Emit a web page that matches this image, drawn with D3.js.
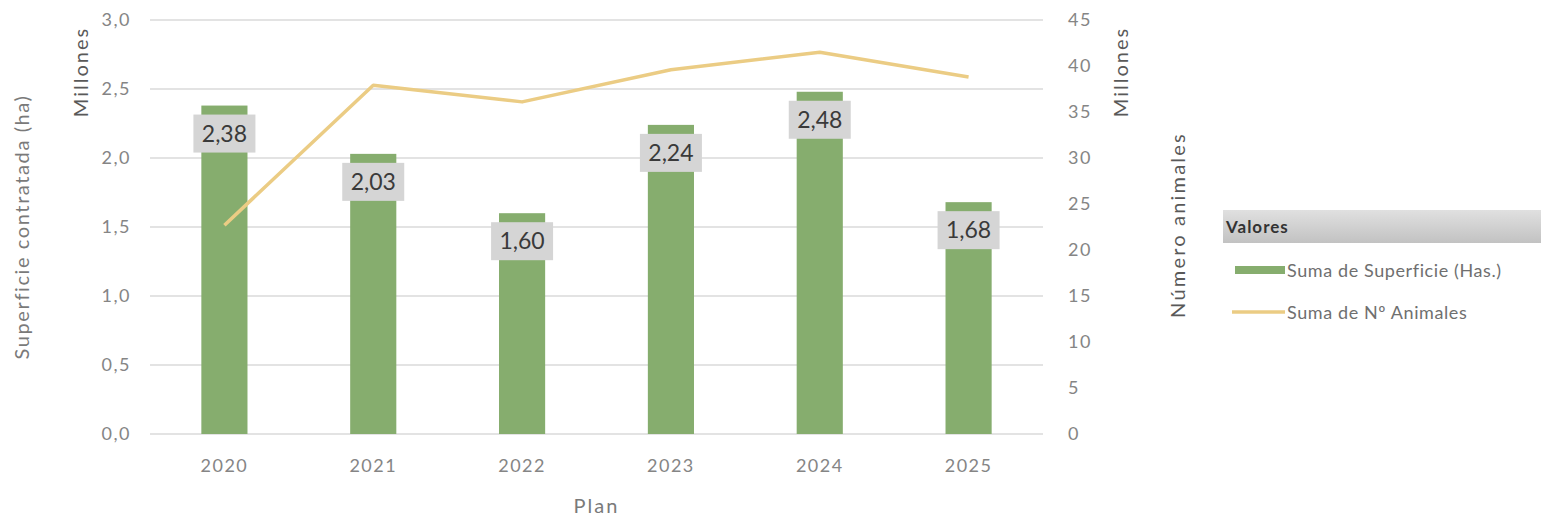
<!DOCTYPE html>
<html><head><meta charset="utf-8">
<script src="https://cdn.jsdelivr.net/npm/d3@7/dist/d3.min.js"></script>
<style>body{margin:0;background:#fff;}svg{display:block;font-family:Lato,"Open Sans",sans-serif;}</style>
</head><body><svg id="c" width="1541" height="516"></svg>
<script>
const categories = ["2020","2021","2022","2023","2024","2025"];
const superficie = [2.38, 2.03, 1.60, 2.24, 2.48, 1.68];
const animales = [22.7, 37.9, 36.1, 39.6, 41.5, 38.8];
const leftTicks = [0,0.5,1.0,1.5,2.0,2.5,3.0];
const rightTicks = [0,5,10,15,20,25,30,35,40,45];
const seriesNames = ["Suma de Superficie (Has.)","Suma de Nº Animales"];

(function(){
const svg = d3.select("#c");
const pL = 150, pR = 1043, pT = 20, pB = 434;
const x = d3.scaleBand().domain(categories).range([pL, pR]).paddingInner(0.69).paddingOuter(0.345);
const yL = d3.scaleLinear().domain([0,3]).range([pB, pT]);
const yR = d3.scaleLinear().domain([0,45]).range([pB, pT]);
const fmt1 = d => d3.format(".1f")(d).replace(".", ",");
const fmt2 = d => d3.format(".2f")(d).replace(".", ",");
const tickStyle = s => s.attr("font-size", 18).attr("fill", "#858585").attr("font-family", "Lato").attr("letter-spacing", 1.5);

svg.append("g").selectAll("line").data(leftTicks).join("line")
  .attr("x1", pL).attr("x2", pR)
  .attr("y1", d => yL(d)).attr("y2", d => yL(d))
  .attr("stroke", "#dadada").attr("stroke-width", 1.5);

const gL = svg.append("g").attr("transform", `translate(${pL},0)`)
  .call(d3.axisLeft(yL).tickValues(leftTicks).tickFormat(fmt1).tickSize(0).tickPadding(19));
gL.select(".domain").remove();
gL.selectAll("text").call(tickStyle);

const gR = svg.append("g").attr("transform", `translate(${pR},0)`)
  .call(d3.axisRight(yR).tickValues(rightTicks).tickSize(0).tickPadding(25));
gR.select(".domain").remove();
gR.selectAll("text").call(tickStyle);

const gX = svg.append("g").attr("transform", `translate(0,${pB})`)
  .call(d3.axisBottom(x).tickSize(0).tickPadding(25));
gX.select(".domain").remove();
gX.selectAll("text").call(tickStyle);

svg.append("g").selectAll("rect").data(categories).join("rect")
  .attr("x", d => x(d)).attr("width", x.bandwidth())
  .attr("y", (d,i) => yL(superficie[i])).attr("height", (d,i) => pB - yL(superficie[i]))
  .attr("fill", "#86ad6e");

const line = d3.line().x((d,i) => x(categories[i]) + x.bandwidth()/2).y(d => yR(d));
svg.append("path").datum(animales).attr("d", line)
  .attr("fill", "none").attr("stroke", "#ebcc84").attr("stroke-width", 3.5).attr("stroke-linejoin", "round");

const lab = svg.append("g").selectAll("g").data(categories).join("g")
  .attr("transform", (d,i) => `translate(${x(d)+x.bandwidth()/2},${yL(superficie[i]) + 28})`);
lab.append("rect").attr("x", -31).attr("y", -19).attr("width", 62).attr("height", 38)
  .attr("fill", "#d5d5d5");
lab.append("text").attr("text-anchor", "middle").attr("dy", "0.36em")
  .attr("font-size", 23).attr("fill", "#3a3a3a")
  .text((d,i) => fmt2(superficie[i]));

const title = (tx, ty, txt, fill) => svg.append("text")
  .attr("transform", `translate(${tx},${ty}) rotate(-90)`).attr("text-anchor", "middle")
  .attr("font-size", 20).attr("letter-spacing", 1.8).attr("fill", fill).text(txt);
title(29, 227, "Superficie contratada (ha)", "#7a7a7a").attr("letter-spacing", 1.6);
title(88, 72, "Millones", "#595959").attr("letter-spacing", 2);
title(1128, 72, "Millones", "#595959").attr("letter-spacing", 2);
title(1185, 225, "Número animales", "#595959").attr("letter-spacing", 2.2);
svg.append("text").attr("x", (pL+pR)/2).attr("y", 513).attr("text-anchor", "middle")
  .attr("font-size", 20).attr("letter-spacing", 2).attr("fill", "#7a7a7a").text("Plan");

const defs = svg.append("defs");
const grad = defs.append("linearGradient").attr("id", "lg").attr("x1", 0).attr("y1", 0).attr("x2", 0).attr("y2", 1);
grad.append("stop").attr("offset", "0%").attr("stop-color", "#e0e0e0");
grad.append("stop").attr("offset", "100%").attr("stop-color", "#c2c2c2");
svg.append("rect").attr("x", 1223).attr("y", 210).attr("width", 318).attr("height", 33).attr("fill", "url(#lg)");
svg.append("text").attr("x", 1226).attr("y", 233).attr("font-size", 17).attr("font-weight", "bold")
  .attr("fill", "#333").attr("letter-spacing", 1).text("Valores");
svg.append("rect").attr("x", 1235).attr("y", 266).attr("width", 50).attr("height", 8).attr("fill", "#86ad6e");
svg.append("line").attr("x1", 1232).attr("x2", 1285).attr("y1", 312).attr("y2", 312)
  .attr("stroke", "#ebcc84").attr("stroke-width", 3.5);
svg.append("text").attr("x", 1287).attr("y", 277).attr("font-size", 18).attr("letter-spacing", 0.6).attr("fill", "#6f6f6f").text(seriesNames[0]);
svg.append("text").attr("x", 1287).attr("y", 319).attr("font-size", 18).attr("letter-spacing", 0.6).attr("fill", "#6f6f6f").text(seriesNames[1]);
})();
</script></body></html>
